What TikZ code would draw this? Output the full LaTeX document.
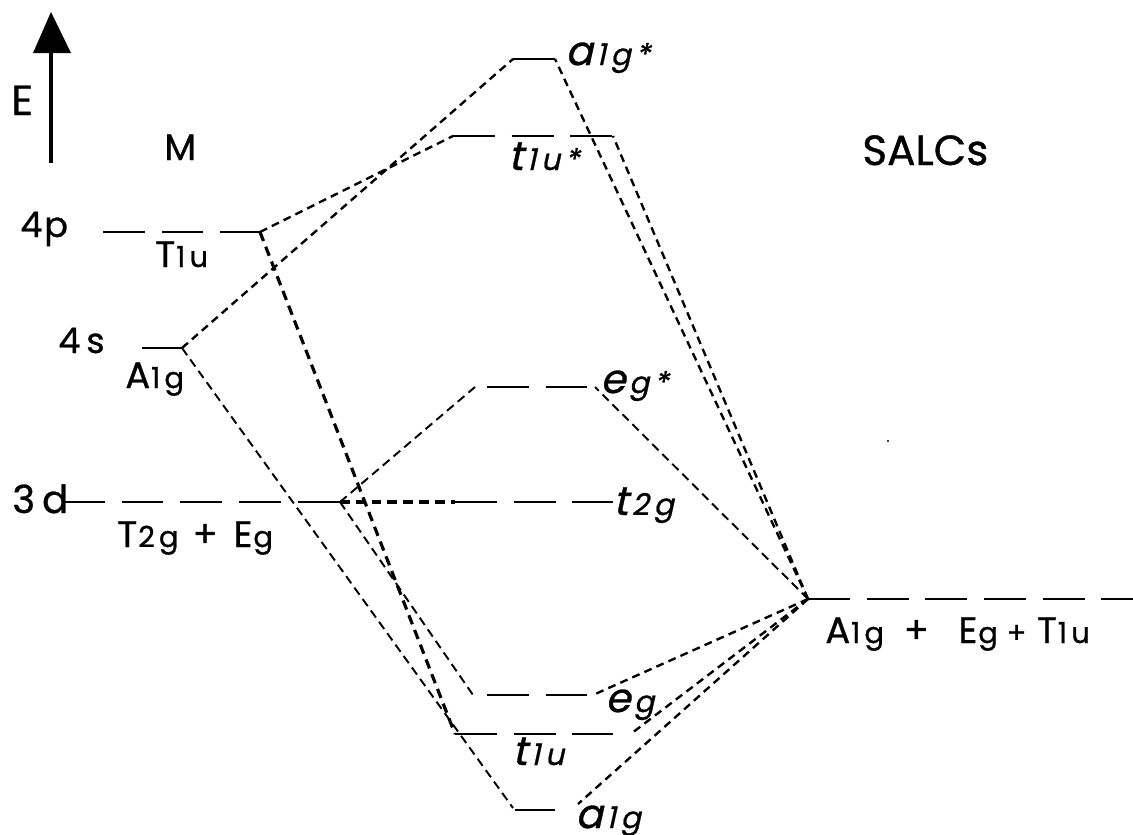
\documentclass[tikz,border=0pt]{standalone}
\usepackage{fontspec}
\setmainfont{Poppins}[FakeBold=0.8]
\newfontfamily\mainf[FakeBold=0.8]{Poppins}
\newfontfamily\subf[FakeBold=0.8,LetterSpace=14]{Poppins}
\newfontfamily\slf[FakeSlant=0.22,FakeBold=0.8]{Poppins}
\newfontfamily\slsubf[FakeSlant=0.22,FakeBold=0.8,LetterSpace=16]{Poppins}
\newcommand{\MS}[1]{{\mainf\fontsize{21pt}{21pt}\selectfont #1}}
\newcommand{\SubS}[1]{{\subf\fontsize{16.5pt}{16.5pt}\selectfont #1}}
\newcommand{\ML}[2]{{\mainf\fontsize{21pt}{21pt}\selectfont #1\hspace{0.5pt}}{\subf\fontsize{16.5pt}{16.5pt}\selectfont #2}}
\newcommand{\IL}[2]{{\slf\fontsize{23pt}{23pt}\selectfont #1\hspace{2pt}}{\slsubf\fontsize{17pt}{17pt}\selectfont #2}}
\begin{document}
\begin{tikzpicture}[x=0.02cm,y=-0.02cm,
  lvl/.style={line width=1.4pt, dash pattern=on 23.8pt off 9.6pt},
  conn/.style={line width=1.1pt, dash pattern=on 5pt off 3pt},
  dconn/.style={line width=1.35pt, dash pattern=on 4.5pt off 3pt},
  heavy/.style={line width=1.8pt, dash pattern=on 5.5pt off 3.5pt},
  lab/.style={anchor=base west, inner sep=0pt}]
\useasboundingbox (0,0) rectangle (1133,835);
% energy axis
\coordinate (axB) at (51,163);
\coordinate (axH) at (51,53);
\draw[line width=2.8pt] (axB) -- (axH);
\fill (33,53) -- (71,53) -- (51,12) -- cycle;
\node[lab] (Elab) at (11,115) {\fontsize{24pt}{24pt}\selectfont E};
\node[lab] (Mlab) at (164,160) {\fontsize{21pt}{21pt}\selectfont M};
\node[lab] (SALCs) at (862,165) {\fontsize{24pt}{24pt}\selectfont SALCs};
% metal levels
\coordinate (p4L) at (103,232); \coordinate (p4R) at (260,232);
\coordinate (s4L) at (142,348); \coordinate (s4R) at (182,348);
\coordinate (d3L) at (63,502);  \coordinate (d3R) at (340,502);
\draw[lvl] (p4L) -- (p4R);
\draw[lvl] (s4L) -- (s4R);
\draw[lvl] (d3L) -- (d3R);
\node[lab] (l4p) at (20,237) {\fontsize{20pt}{20pt}\selectfont 4\hspace{1pt}p};
\node[lab] (l4s) at (58,353) {\fontsize{20pt}{20pt}\selectfont 4\,s};
\node[lab] (l3d) at (12,513) {\fontsize{22pt}{22pt}\selectfont 3\hspace{4pt}d};
\node[lab] (lT1u) at (155,267) {\ML{T}{1u}};
\node[lab] (lA1g) at (125,388) {\ML{A}{1g}};
\node[lab] (lT2g) at (117,547) {\ML{T}{2g}\hspace{8pt}\MS{+}\hspace{9pt}\ML{E}{g}};
% MO levels
\coordinate (a1gsL) at (513,59);  \coordinate (a1gsR) at (555,59);
\coordinate (t1usL) at (453,136); \coordinate (t1usR) at (613,136);
\coordinate (egsL) at (475,387);  \coordinate (egsR) at (595,387);
\coordinate (t2gL) at (455,502);  \coordinate (t2gR) at (613,502);
\coordinate (egL) at (473,695);   \coordinate (egR) at (593,695);
\coordinate (t1uL) at (455,734);  \coordinate (t1uE) at (613,734); \coordinate (t1uR) at (632,733);
\coordinate (a1gL) at (513,808);  \coordinate (a1gE) at (555,810); \coordinate (a1gR) at (578,804);
\draw[lvl] (a1gsL) -- (a1gsR);
\draw[lvl] (t1usL) -- (t1usR);
\draw[lvl, dash phase=26.6pt] (egsL) -- (egsR);
\draw[lvl] (t2gL) -- (t2gR);
\draw[lvl, dash phase=25.5pt] (egL) -- (egR);
\draw[lvl] (t1uL) -- (t1uE);
\draw[lvl] (515,810) -- (a1gE);
\node[lab] (la1gs) at (565,65) {\IL{a}{1g*}};
\node[lab] (lt1us) at (508,170) {\IL{t}{1u*}};
\node[lab] (legs) at (600,393) {\IL{e}{g*}};
\node[lab] (lt2g) at (613,515) {\IL{t}{2g}};
\node[lab] (leg) at (605,712) {\IL{e}{g}};
\node[lab] (lt1u) at (512,765) {\IL{t}{1u}};
\node[lab] (la1g) at (575,828) {\IL{a}{1g}};
% SALC level
\coordinate (sL) at (808,599); \coordinate (sR) at (1133,599);
\draw[lvl] (sL) -- (sR);
\node[lab] (lsalc) at (825,643) {\ML{A}{1g}\MS{\ \ +\ \ \ }\ML{E}{g}\hspace{5pt}\SubS{+}\hspace{6pt}\ML{T}{1u}};
% connectors from metal
\draw[dconn] (s4R) -- (a1gsL);
\draw[conn] (s4R) -- (a1gL);
\draw[dconn] (p4R) -- (t1usL);
\draw[heavy] (p4R) -- (t1uL);
\draw[conn] (d3R) -- (egsL);
\draw[heavy] (d3R) -- (t2gL);
\draw[conn] (d3R) -- (egL);
% connectors from SALCs
\draw[dconn] (sL) -- (a1gsR);
\draw[dconn] (sL) -- (t1usR);
\draw[conn] (sL) -- (egsR);
\draw[dconn] (sL) -- (egR);
\draw[dconn] (sL) -- (t1uR);
\draw[dconn] (sL) -- (a1gR);
\fill (888,441) circle (1.2);
\end{tikzpicture}
\end{document}
